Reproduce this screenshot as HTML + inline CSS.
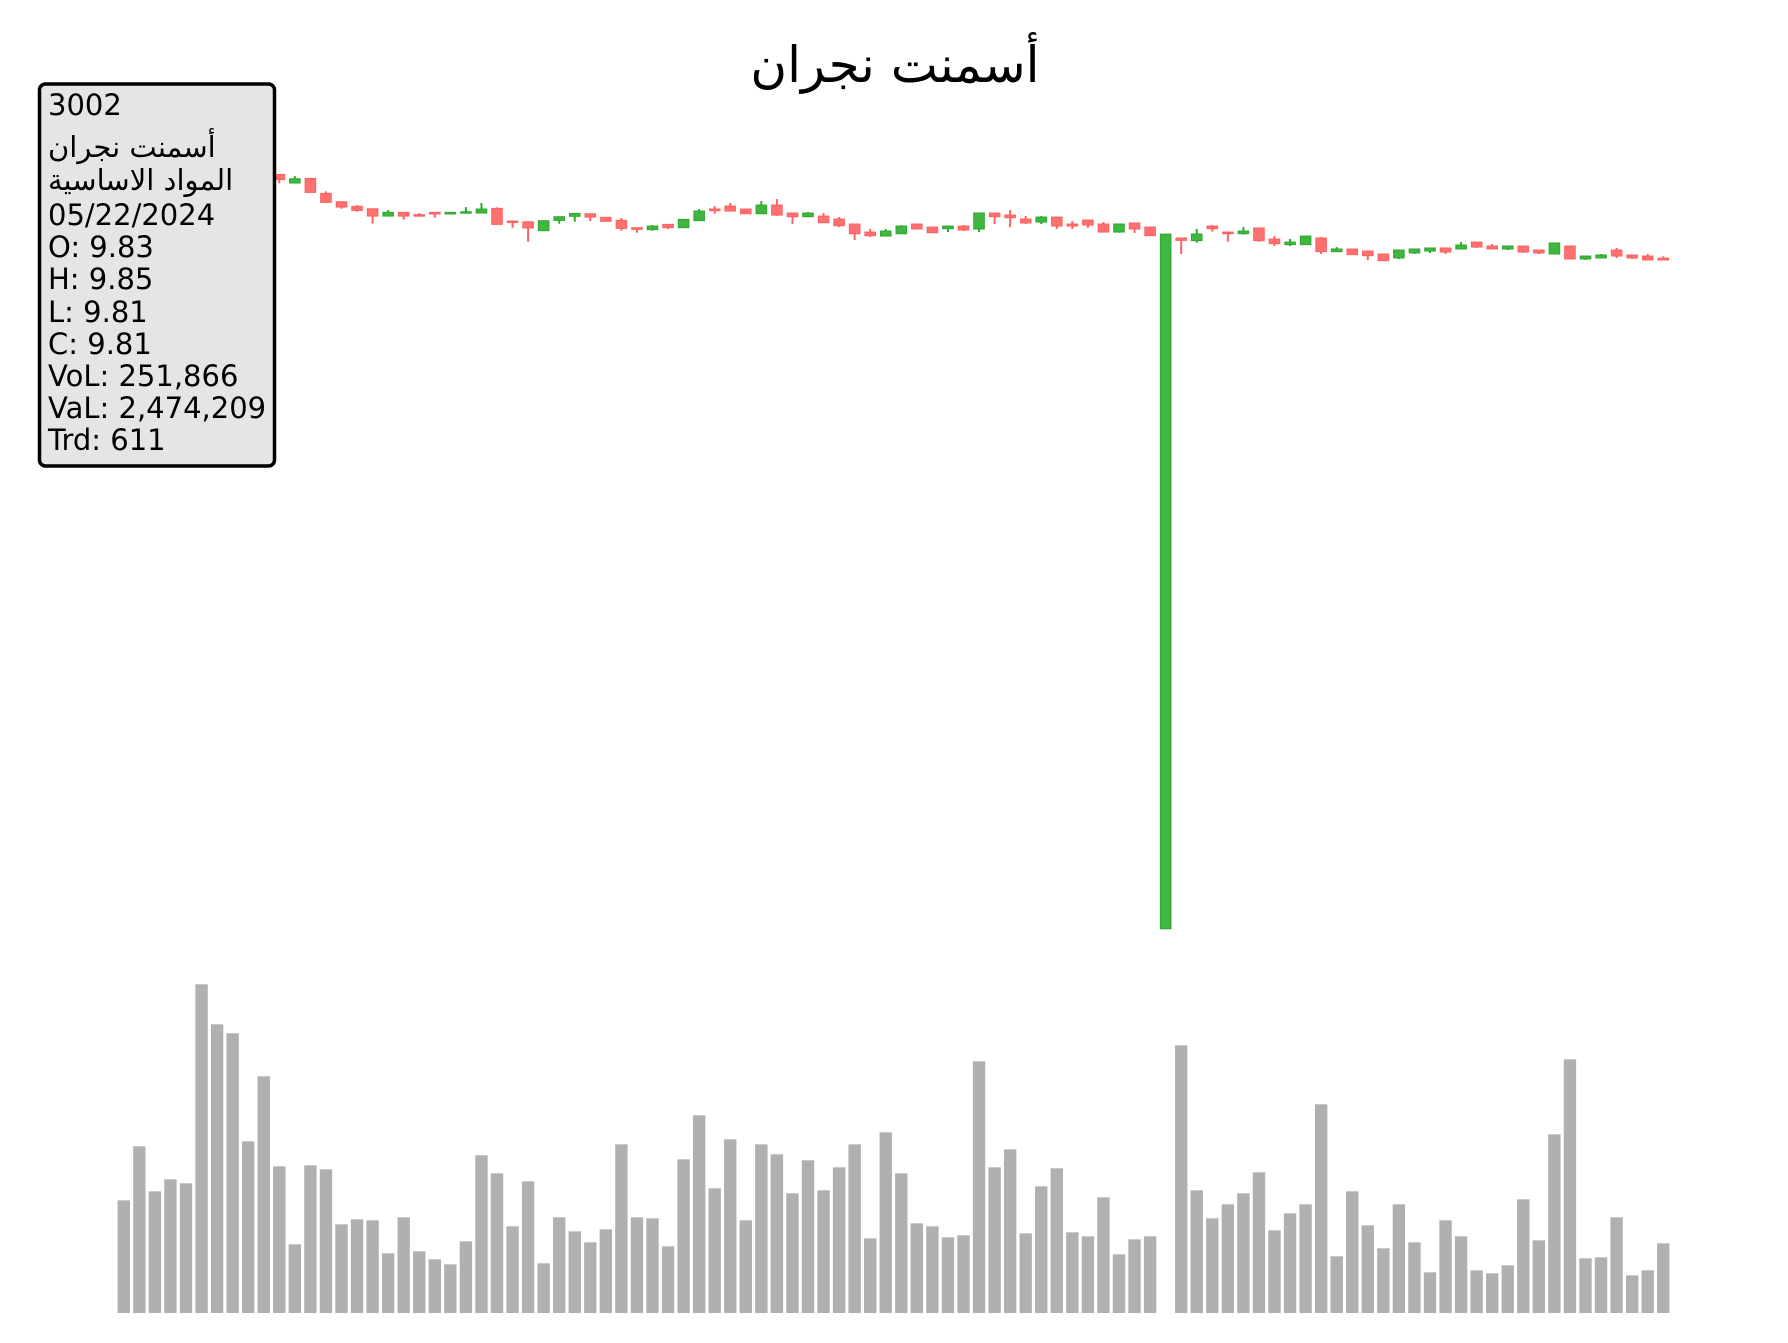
<!DOCTYPE html>
<html><head><meta charset="utf-8">
<style>
html,body{margin:0;padding:0;background:#fff;}
svg{display:block;}
text{font-family:"DejaVu Sans","Liberation Sans","Noto Sans CJK SC",sans-serif;}
</style></head>
<body>
<svg id="chart" width="1788" height="1343" viewBox="0 0 1788 1343" xmlns="http://www.w3.org/2000/svg">
  <rect x="0" y="0" width="1788" height="1343" fill="#ffffff"/>
  <text x="895" y="82" font-size="50" text-anchor="middle" fill="#000">أسمنت نجران</text>
  <g id="candles"></g>
  <g id="volumes"></g>
  <g>
    <rect x="39.5" y="84" width="235" height="382" rx="6" ry="6" fill="#e5e5e5" stroke="#000" stroke-width="3.5"/>
    <text x="48" y="115" font-size="29">3002</text>
    <text x="48" y="157" font-size="29">أسمنت نجران</text>
    <text x="48" y="190" font-size="29">المواد الاساسية</text>
    <text x="48" y="225" font-size="29">05/22/2024</text>
    <text x="48" y="257" font-size="29">O: 9.83</text>
    <text x="48" y="289" font-size="29">H: 9.85</text>
    <text x="48" y="322" font-size="29">L: 9.81</text>
    <text x="48" y="354" font-size="29">C: 9.81</text>
    <text x="48" y="386" font-size="29">VoL: 251,866</text>
    <text x="48" y="418" font-size="29">VaL: 2,474,209</text>
    <text x="48" y="450" font-size="29">Trd: 611</text>
  </g>
</svg>
<script>
const opens = [10.80,10.79,10.80,10.78,10.79,10.77,10.78,10.76,10.77,10.75,
10.735,10.642,10.692,10.53,10.44,10.39,10.364,10.285,10.325,10.30,
10.325,10.307,10.318,10.318,10.368,10.231,10.224,10.127,10.238,10.282,
10.31,10.271,10.238,10.159,10.138,10.195,10.159,10.235,10.361,10.393,
10.361,10.31,10.404,10.318,10.278,10.285,10.253,10.199,10.112,10.069,
10.094,10.199,10.166,10.148,10.177,10.145,10.318,10.296,10.253,10.22,
10.274,10.199,10.242,10.199,10.112,10.21,10.166,2.58,10.048,10.019,
10.177,10.112,10.094,10.156,10.037,9.976,9.976,10.048,9.9,9.929,
9.907,9.875,9.832,9.886,9.907,9.94,9.929,10.004,9.961,9.929,
9.961,9.918,9.875,9.961,9.821,9.832,9.918,9.864,9.853,9.83];
const highs = [10.82,10.81,10.82,10.80,10.80,10.79,10.79,10.78,10.78,10.76,
10.74,10.717,10.692,10.552,10.44,10.404,10.364,10.35,10.325,10.318,
10.325,10.325,10.382,10.426,10.379,10.238,10.224,10.235,10.278,10.314,
10.31,10.271,10.264,10.159,10.188,10.195,10.249,10.361,10.393,10.426,
10.361,10.447,10.469,10.318,10.328,10.318,10.274,10.199,10.145,10.145,
10.188,10.199,10.166,10.177,10.188,10.318,10.318,10.35,10.285,10.285,
10.274,10.231,10.242,10.22,10.199,10.21,10.166,10.09,10.048,10.145,
10.188,10.112,10.166,10.156,10.069,10.037,10.069,10.058,9.95,9.929,
9.907,9.875,9.918,9.929,9.94,9.94,10.004,10.004,9.983,9.961,
9.961,9.918,9.994,9.961,9.853,9.875,9.94,9.864,9.875,9.85];
const lows = [10.78,10.77,10.78,10.76,10.77,10.75,10.76,10.74,10.75,10.73,
10.64,10.642,10.541,10.433,10.364,10.332,10.202,10.285,10.246,10.278,
10.267,10.307,10.318,10.318,10.195,10.159,10.008,10.127,10.202,10.224,
10.231,10.228,10.127,10.105,10.127,10.145,10.159,10.235,10.31,10.332,
10.31,10.31,10.285,10.199,10.278,10.213,10.166,10.026,10.058,10.069,
10.094,10.145,10.105,10.112,10.123,10.112,10.199,10.166,10.199,10.199,
10.145,10.145,10.156,10.112,10.105,10.102,10.073,2.58,9.875,9.997,
10.116,10.008,10.084,10.008,9.961,9.961,9.976,9.875,9.9,9.868,
9.81,9.803,9.821,9.875,9.886,9.875,9.929,9.94,9.929,9.918,
9.886,9.875,9.875,9.821,9.81,9.832,9.832,9.821,9.81,9.81];
const closes = [10.79,10.80,10.78,10.79,10.77,10.78,10.76,10.77,10.75,10.74,
10.68,10.688,10.541,10.433,10.382,10.346,10.285,10.325,10.285,10.285,
10.307,10.325,10.332,10.361,10.195,10.217,10.156,10.235,10.278,10.314,
10.274,10.228,10.152,10.141,10.177,10.159,10.249,10.339,10.343,10.339,
10.31,10.404,10.296,10.278,10.318,10.213,10.181,10.094,10.073,10.123,
10.177,10.145,10.105,10.177,10.134,10.318,10.278,10.267,10.21,10.274,
10.177,10.177,10.188,10.112,10.199,10.145,10.073,10.09,10.022,10.091,
10.148,10.094,10.123,10.019,9.986,10.004,10.069,9.9,9.929,9.868,
9.857,9.803,9.918,9.929,9.94,9.896,9.972,9.95,9.929,9.961,
9.896,9.886,9.994,9.821,9.853,9.864,9.853,9.832,9.81,9.81];
const volumes = [338,500,365,401,389,986,866,839,515,710,
440,206,443,431,266,281,278,179,287,185,
161,146,215,473,419,260,395,149,287,245,
212,251,506,287,284,200,461,593,374,521,
278,506,476,359,458,368,437,506,224,542,
419,269,260,227,233,755,437,491,239,380,
434,242,230,347,176,221,230,0,803,368,
284,326,359,422,248,299,326,626,170,365,
263,194,326,212,122,278,230,128,119,143,
341,218,536,761,164,167,287,113,128,209];

const NS = 'http://www.w3.org/2000/svg';
const X0 = 123.8, STEP = 15.55;
function xAt(i){ return X0 + i*STEP; }
function yPrice(p){ return 260 - (p - 9.81)*92.5; }
const VBASE = 1313, VMAX = 986, VH = 328.7;
function yVol(v){ return VBASE - v/VMAX*VH; }

const cg = document.getElementById('candles');
for (let i = 0; i < opens.length; i++) {
  const up = closes[i] >= opens[i];
  const fill = up ? '#3fb63f' : '#ff7171';
  const edge = up ? '#2fa82f' : '#ff6060';
  const x = xAt(i);
  const wick = document.createElementNS(NS, 'line');
  
  
  wick.setAttribute('x1', x); wick.setAttribute('x2', x);
  wick.setAttribute('y1', yPrice(highs[i])); wick.setAttribute('y2', yPrice(lows[i]));
  wick.setAttribute('stroke', edge); wick.setAttribute('stroke-width', '2');
  cg.appendChild(wick);
  const top = yPrice(Math.max(opens[i], closes[i]));
  const bot = yPrice(Math.min(opens[i], closes[i]));
  const body = document.createElementNS(NS, 'rect');
  
  
  body.setAttribute('x', x - 5.3); body.setAttribute('width', 10.6);
  body.setAttribute('y', top); body.setAttribute('height', Math.max(bot - top, 1.5));
  body.setAttribute('fill', fill); body.setAttribute('stroke', edge); body.setAttribute('stroke-width', '1');
  cg.appendChild(body);
}

const vg = document.getElementById('volumes');
for (let i = 0; i < volumes.length; i++) {
  if (volumes[i] <= 0) continue;
  const r = document.createElementNS(NS, 'rect');
  
  
  const y = yVol(volumes[i]);
  r.setAttribute('x', xAt(i) - 6.2); r.setAttribute('width', 12.4);
  r.setAttribute('y', y); r.setAttribute('height', VBASE - y);
  r.setAttribute('fill', '#b0b0b0');
  vg.appendChild(r);
}
</script>
</body></html>
